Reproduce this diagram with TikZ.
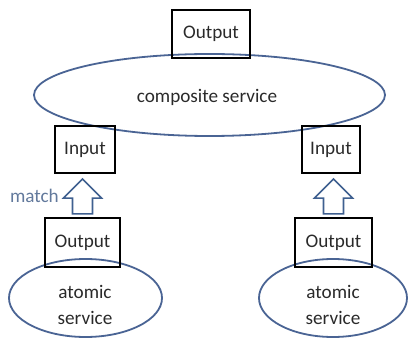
\documentclass[tikz,border=0pt]{standalone}
\usepackage{fontspec}
\setmainfont{Carlito}
\usetikzlibrary{shapes.geometric,calc}
\definecolor{ellblue}{HTML}{4A6494}
\definecolor{arrblue}{HTML}{3F6090}
\definecolor{matchblue}{HTML}{62799C}
\definecolor{txtgray}{HTML}{2A2A2A}
\tikzset{
  svc/.style={ellipse, draw=ellblue, line width=1.8pt, inner sep=0pt},
  port/.style={draw=black, line width=2.2pt, inner sep=0pt, text=txtgray},
  lbl/.style={text=txtgray, inner sep=0pt},
  barrow/.style={draw=arrblue, line width=1.6pt, fill=white, line join=miter}
}
\begin{document}
\begin{tikzpicture}[x=1pt,y=-1pt,font=\fontsize{19.2}{26}\selectfont]
\useasboundingbox (0,0) rectangle (409,347);
% services
\node[svc, minimum width=351pt, minimum height=82pt] (cs) at (209.5,95) {};
\node[lbl] (cst) at (207,97) {composite service};
\node[svc, minimum width=153pt, minimum height=78pt] (la) at (85.5,298) {};
\node[lbl, align=center] (lat) at (85,305) {atomic\\service};
\node[svc, minimum width=148pt, minimum height=78pt] (ra) at (333,298) {};
\node[lbl, align=center] (rat) at (333,305) {atomic\\service};
% ports
\node[port, minimum width=78pt, minimum height=48pt] (co) at (211,34) {Output};
\node[port, minimum width=60pt, minimum height=47pt] (li) at (85,149.5) {Input};
\node[port, minimum width=58pt, minimum height=47pt] (ri) at (331,149.5) {Input};
\node[port, minimum width=75pt, minimum height=49pt] (lo) at (82.5,242.5) {Output};
\node[port, minimum width=77pt, minimum height=49pt] (ro) at (333.5,242.5) {Output};
% block arrows
\draw[barrow] let \p1=(lo.north), \p2=(li.south) in
  (\x1-10pt,\y1+3pt) -- (\x1-10pt,\y2-24pt) -- (\x1-19pt,\y2-24pt) --
  (\x1,\y2-5pt) -- (\x1+19pt,\y2-24pt) -- (\x1+10pt,\y2-24pt) --
  (\x1+10pt,\y1+3pt) -- cycle;
\draw[barrow] let \p1=(ro.north), \p2=(ri.south) in
  (\x1-10pt,\y1+3pt) -- (\x1-10pt,\y2-24pt) -- (\x1-19pt,\y2-24pt) --
  (\x1,\y2-5pt) -- (\x1+19pt,\y2-24pt) -- (\x1+10pt,\y2-24pt) --
  (\x1+10pt,\y1+3pt) -- cycle;
\node[text=matchblue, inner sep=0pt, anchor=east] (m) at (59,196) {match};
\end{tikzpicture}
\end{document}
